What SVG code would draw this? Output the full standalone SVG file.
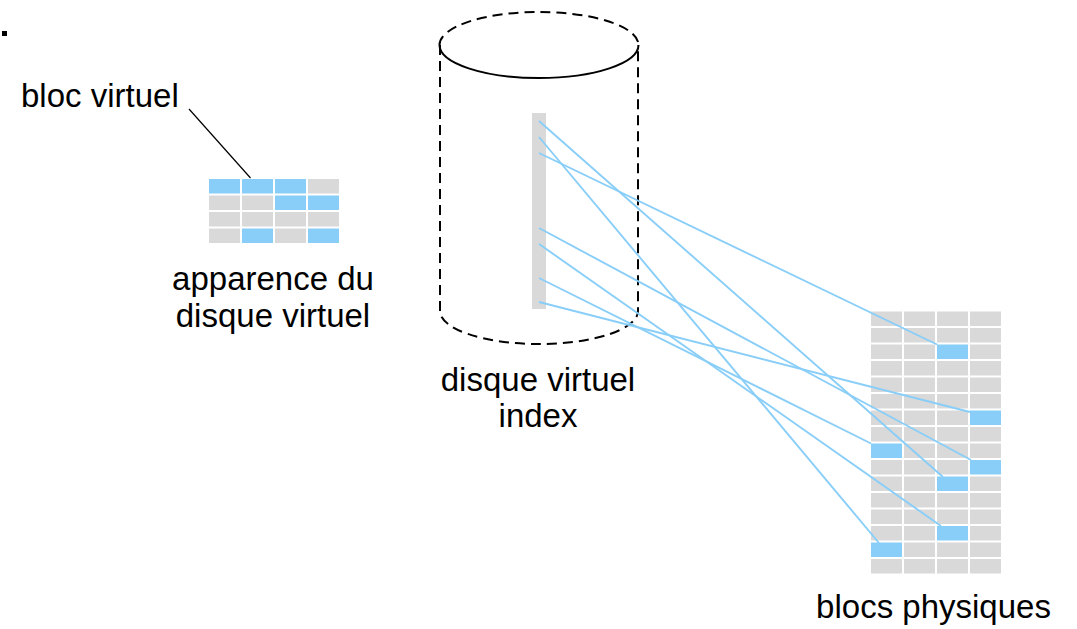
<svg xmlns="http://www.w3.org/2000/svg" width="1077" height="629" viewBox="0 0 1077 629">
  <style>
    .lbl { font-family: "Liberation Sans", Arial, Helvetica, sans-serif; font-size: 33px; fill: #000; }
    .c { text-anchor: middle; }
    .cell { fill: #d9d9d9; }
    .on { fill: #89cef8; }
    .dash { fill: none; stroke: #000; stroke-width: 2; stroke-dasharray: 10 6; }
    .solid { fill: none; stroke: #000; stroke-width: 2; }
    .map { stroke: #89cef8; stroke-width: 1.9; fill: none; }
  </style>
  <defs>
    <rect id="vc" width="31" height="14.5"/>
  </defs>

  <rect x="2" y="31" width="5" height="5" fill="#000"/>

  <!-- virtual disk as seen by the user -->
  <g id="virtual-view">
    <g class="cell">
      <use href="#vc" x="308" y="179"/>
      <use href="#vc" x="209" y="195.5"/><use href="#vc" x="242" y="195.5"/>
      <use href="#vc" x="209" y="212"/><use href="#vc" x="242" y="212"/><use href="#vc" x="275" y="212"/><use href="#vc" x="308" y="212"/>
      <use href="#vc" x="209" y="228.5"/><use href="#vc" x="275" y="228.5"/>
    </g>
    <g class="on">
      <use href="#vc" x="209" y="179"/><use href="#vc" x="242" y="179"/><use href="#vc" x="275" y="179"/>
      <use href="#vc" x="275" y="195.5"/><use href="#vc" x="308" y="195.5"/>
      <use href="#vc" x="242" y="228.5"/><use href="#vc" x="308" y="228.5"/>
    </g>
    <text class="lbl c" x="273" y="290">apparence du</text>
    <text class="lbl c" x="273" y="326.5">disque virtuel</text>
  </g>

  <g id="virtual-block-label">
    <text class="lbl" x="21" y="106.5">bloc virtuel</text>
    <line x1="189" y1="109" x2="250.5" y2="178" stroke="#000" stroke-width="1.2"/>
  </g>

  <!-- index cylinder -->
  <g id="index-disk">
    <path class="dash" d="M439.5 45 A99.5 33 0 0 1 638.5 45"/>
    <path class="solid" d="M439.5 45 A99.5 33 0 0 0 638.5 45"/>
    <path class="dash" d="M440 45 V311 A99 33 0 0 0 638 311 V45"/>
    <rect x="532" y="113" width="14" height="196" fill="#d9d9d9"/>
    <text class="lbl c" x="538" y="390.5">disque virtuel</text>
    <text class="lbl c" x="538" y="426.5">index</text>
  </g>

  <!-- physical blocks -->
  <g id="physical-blocks">
    <g class="cell">
      <use href="#vc" x="871" y="311.5"/><use href="#vc" x="904" y="311.5"/><use href="#vc" x="937" y="311.5"/><use href="#vc" x="970" y="311.5"/>
      <use href="#vc" x="871" y="328"/><use href="#vc" x="904" y="328"/><use href="#vc" x="937" y="328"/><use href="#vc" x="970" y="328"/>
      <use href="#vc" x="871" y="344.5"/><use href="#vc" x="904" y="344.5"/><use href="#vc" x="970" y="344.5"/>
      <use href="#vc" x="871" y="361"/><use href="#vc" x="904" y="361"/><use href="#vc" x="937" y="361"/><use href="#vc" x="970" y="361"/>
      <use href="#vc" x="871" y="377.5"/><use href="#vc" x="904" y="377.5"/><use href="#vc" x="937" y="377.5"/><use href="#vc" x="970" y="377.5"/>
      <use href="#vc" x="871" y="394"/><use href="#vc" x="904" y="394"/><use href="#vc" x="937" y="394"/><use href="#vc" x="970" y="394"/>
      <use href="#vc" x="871" y="410.5"/><use href="#vc" x="904" y="410.5"/><use href="#vc" x="937" y="410.5"/>
      <use href="#vc" x="871" y="427"/><use href="#vc" x="904" y="427"/><use href="#vc" x="937" y="427"/><use href="#vc" x="970" y="427"/>
      <use href="#vc" x="904" y="443.5"/><use href="#vc" x="937" y="443.5"/><use href="#vc" x="970" y="443.5"/>
      <use href="#vc" x="871" y="460"/><use href="#vc" x="904" y="460"/><use href="#vc" x="937" y="460"/>
      <use href="#vc" x="871" y="476.5"/><use href="#vc" x="904" y="476.5"/><use href="#vc" x="970" y="476.5"/>
      <use href="#vc" x="871" y="493"/><use href="#vc" x="904" y="493"/><use href="#vc" x="937" y="493"/><use href="#vc" x="970" y="493"/>
      <use href="#vc" x="871" y="509.5"/><use href="#vc" x="904" y="509.5"/><use href="#vc" x="937" y="509.5"/><use href="#vc" x="970" y="509.5"/>
      <use href="#vc" x="871" y="526"/><use href="#vc" x="904" y="526"/><use href="#vc" x="970" y="526"/>
      <use href="#vc" x="904" y="542.5"/><use href="#vc" x="937" y="542.5"/><use href="#vc" x="970" y="542.5"/>
      <use href="#vc" x="871" y="559"/><use href="#vc" x="904" y="559"/><use href="#vc" x="937" y="559"/><use href="#vc" x="970" y="559"/>
    </g>
    <g class="on">
      <use href="#vc" x="937" y="344.5"/>
      <use href="#vc" x="970" y="410.5"/>
      <use href="#vc" x="871" y="443.5"/>
      <use href="#vc" x="970" y="460"/>
      <use href="#vc" x="937" y="476.5"/>
      <use href="#vc" x="937" y="526"/>
      <use href="#vc" x="871" y="542.5"/>
    </g>
    <text class="lbl c" x="933.5" y="618">blocs physiques</text>
  </g>

  <!-- index entries pointing to physical blocks -->
  <g id="connectors" class="map">
    <line x1="539" y1="121" x2="943" y2="477"/>
    <line x1="539" y1="137" x2="879" y2="543"/>
    <line x1="539" y1="153" x2="937" y2="344.5"/>
    <line x1="539" y1="228" x2="971" y2="460"/>
    <line x1="539" y1="244" x2="941" y2="526"/>
    <line x1="539" y1="278" x2="871" y2="443.5"/>
    <line x1="539" y1="302" x2="970" y2="412"/>
  </g>
</svg>
